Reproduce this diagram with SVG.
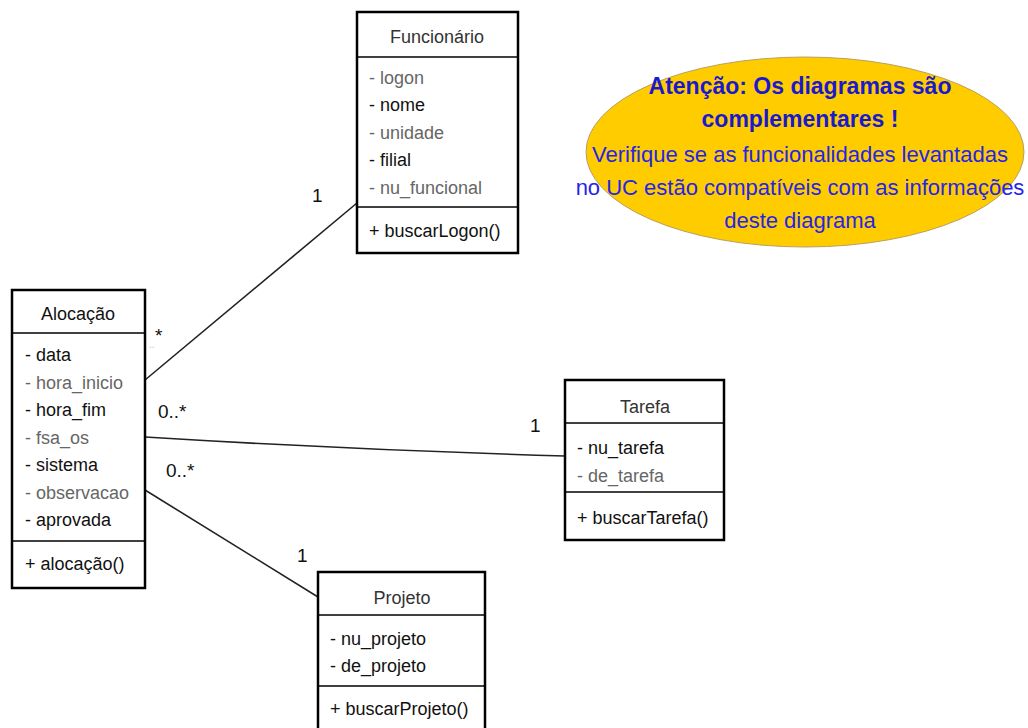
<svg xmlns="http://www.w3.org/2000/svg" width="1028" height="728" viewBox="0 0 1028 728">
<style>
.box{fill:#fff;stroke:#000;stroke-width:2.5}
.sep{stroke:#000;stroke-width:1.5}
.t{font-family:"Liberation Sans Narrow","Liberation Sans",Arial,sans-serif;font-size:18px;fill:#111}
.g{fill:#666}
.c{text-anchor:middle}
.ln{stroke:#222;stroke-width:1.6;fill:none}
.m{font-family:"Liberation Sans",Arial,sans-serif;font-size:19px;fill:#111}
.nb{font-family:"Liberation Sans",Arial,sans-serif;font-size:23px;fill:#1a1acc;text-anchor:middle;font-weight:bold}
.nn{font-family:"Liberation Sans",Arial,sans-serif;font-size:22px;fill:#2525e6;text-anchor:middle}
</style>
<g id="connectors">
<line class="ln" x1="145" y1="380" x2="357" y2="203"/>
<path class="ln" d="M145 437 Q355 450 565 456"/>
<line class="ln" x1="145" y1="490" x2="318" y2="597"/>
<text class="m" x="312" y="202">1</text>
<text class="m" x="155" y="342">*</text>
<text class="m" x="149" y="348" style="font-size:10px;fill:#bbb">..</text>
<text class="m" x="158" y="418">0..*</text>
<text class="m" x="530" y="432">1</text>
<text class="m" x="166" y="477">0..*</text>
<text class="m" x="297" y="562">1</text>
</g>
<g id="funcionario">
<rect class="box" x="357" y="12" width="161" height="241"/>
<line class="sep" x1="357" y1="57" x2="518" y2="57"/>
<line class="sep" x1="357" y1="207" x2="518" y2="207"/>
<text class="t c" x="437" y="43" style="fill:#333">Funcionário</text>
<text class="t g" x="369" y="84">- logon</text>
<text class="t" x="369" y="111">- nome</text>
<text class="t g" x="369" y="139">- unidade</text>
<text class="t" x="369" y="166">- filial</text>
<text class="t g" x="369" y="194">- nu_funcional</text>
<text class="t" x="369" y="237">+ buscarLogon()</text>
</g>
<g id="alocacao">
<rect class="box" x="12" y="290" width="133" height="298"/>
<line class="sep" x1="12" y1="333" x2="145" y2="333"/>
<line class="sep" x1="12" y1="541" x2="145" y2="541"/>
<text class="t c" x="78" y="320">Alocação</text>
<text class="t" x="25" y="361">- data</text>
<text class="t g" x="25" y="389">- hora_inicio</text>
<text class="t" x="25" y="416">- hora_fim</text>
<text class="t g" x="25" y="444">- fsa_os</text>
<text class="t" x="25" y="471">- sistema</text>
<text class="t g" x="25" y="499">- observacao</text>
<text class="t" x="25" y="526">- aprovada</text>
<text class="t" x="25" y="570">+ alocação()</text>
</g>
<g id="tarefa">
<rect class="box" x="565" y="380" width="159" height="160"/>
<line class="sep" x1="565" y1="423" x2="724" y2="423"/>
<line class="sep" x1="565" y1="492" x2="724" y2="492"/>
<text class="t c" x="645" y="413" style="fill:#333">Tarefa</text>
<text class="t" x="577" y="454">- nu_tarefa</text>
<text class="t g" x="577" y="482">- de_tarefa</text>
<text class="t" x="577" y="524">+ buscarTarefa()</text>
</g>
<g id="projeto">
<rect class="box" x="318" y="572" width="167" height="170"/>
<line class="sep" x1="318" y1="615" x2="485" y2="615"/>
<line class="sep" x1="318" y1="686" x2="485" y2="686"/>
<text class="t c" x="402" y="604" style="fill:#333">Projeto</text>
<text class="t" x="330" y="645">- nu_projeto</text>
<text class="t" x="330" y="672">- de_projeto</text>
<text class="t" x="330" y="715">+ buscarProjeto()</text>
</g>
<g id="nota">
<ellipse cx="805" cy="152" rx="219" ry="95" fill="#ffcc00" stroke="#b8a060" stroke-width="1"/>
<text class="nb" x="800" y="94">Atenção: Os diagramas são</text>
<text class="nb" x="800" y="127">complementares !</text>
<text class="nn" x="800" y="162">Verifique se as funcionalidades levantadas</text>
<text class="nn" x="800" y="195">no UC estão compatíveis com as informações</text>
<text class="nn" x="800" y="228">deste diagrama</text>
</g>
</svg>
